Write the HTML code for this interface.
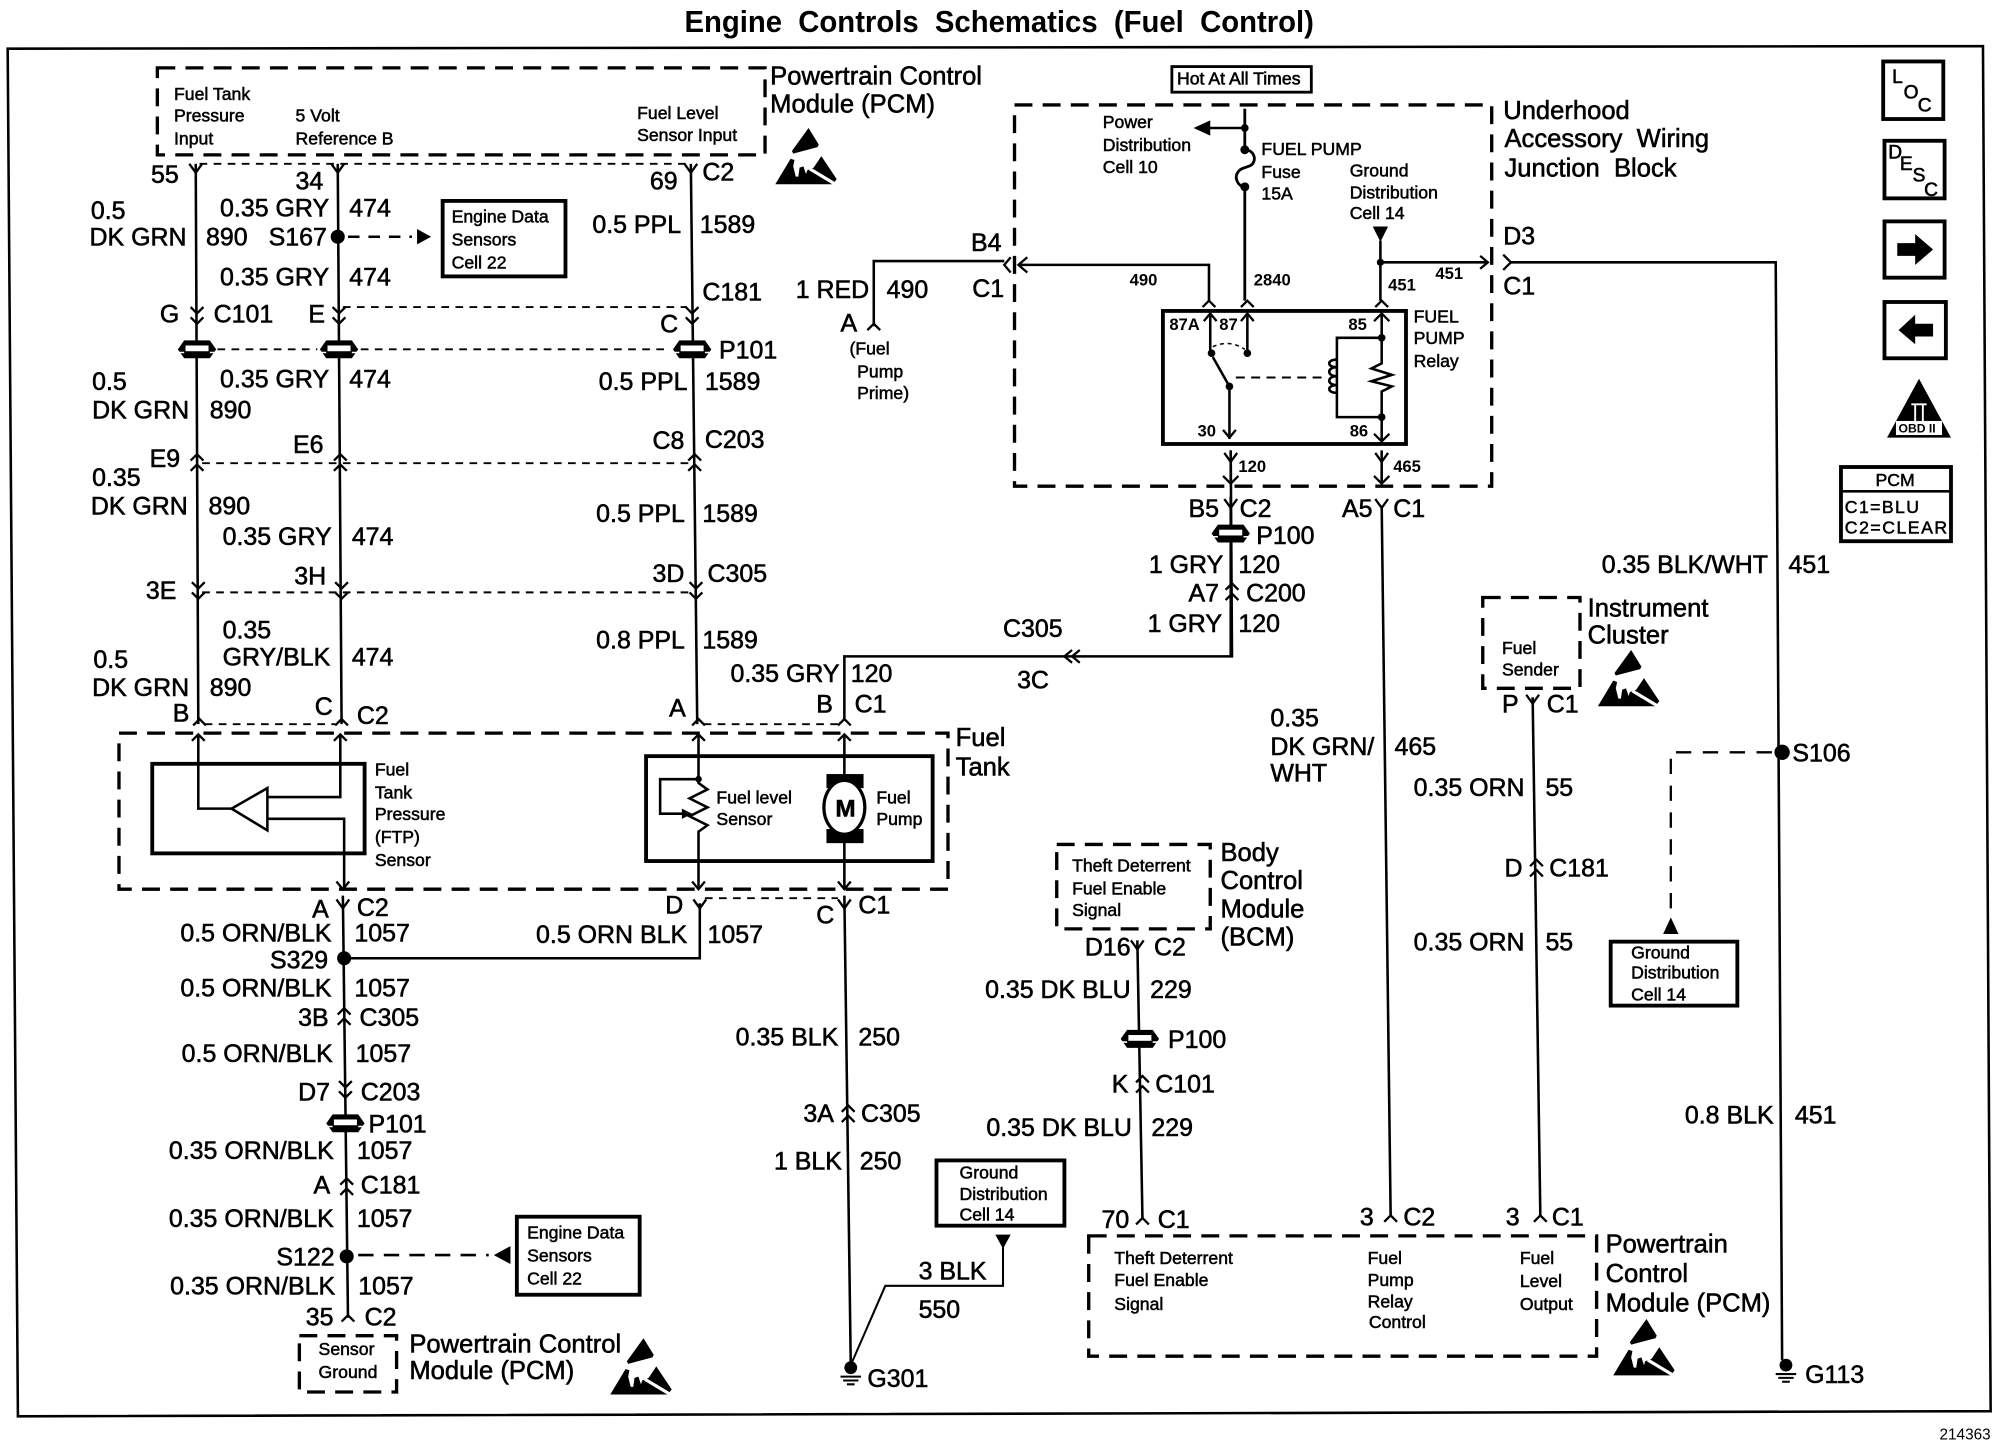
<!DOCTYPE html>
<html><head><meta charset="utf-8"><title>Engine Controls Schematics (Fuel Control)</title>
<style>
html,body{margin:0;padding:0;background:#fff}
svg{display:block}
text{font-family:"Liberation Sans",sans-serif;fill:#000;stroke:#000;stroke-width:.45;white-space:pre}
.b{font-size:19.5px}
.m{font-size:20px}
.s{font-size:13.8px}
.s text{stroke-width:.4}
.r{font-size:13px;font-weight:bold;stroke:none}
.w{fill:none;stroke:#000;stroke-width:2}
.t{fill:none;stroke:#000;stroke-width:1.5;stroke-dasharray:6 5}
.d{fill:none;stroke:#000;stroke-width:2.6;stroke-dasharray:14 8}
.x{fill:none;stroke:#000;stroke-width:3}
</style></head><body>
<svg xmlns="http://www.w3.org/2000/svg" width="2006" height="1456" viewBox="0 0 1568 1138">
<defs>
<path id="Y" d="M-5-7L0 0L5-7" fill="none" stroke="#000" stroke-width="1.8"/>
<path id="ca" d="M-5 5L0 0L5 5" fill="none" stroke="#000" stroke-width="1.8"/>
<path id="dd" d="M-5-5L0 0L5-5M-5 3L0 8L5 3" fill="none" stroke="#000" stroke-width="1.8"/>
<path id="uu" d="M-5 5L0 0L5 5M-5 13L0 8L5 13" fill="none" stroke="#000" stroke-width="1.8"/>
<g id="sp"><path d="M-15 0L-10-7H10L15 0L10 7H-10Z"/><rect x="-9" y="-3" width="18" height="4.5" fill="#fff"/><path d="M-15 2.5H-10M10 2.5H15" stroke="#fff" stroke-width="1.2"/></g>
<g id="esd"><path d="M26 0L34 13L33 15L14 20L13 18Z"/><path d="M0 44L12 24L15 25L14 30L16 38H18L19 31L22 30L24 36L25 33L30 31L36 22L48 40L45 44Z"/><path d="M27 32L47 44" fill="none" stroke="#fff" stroke-width="2.5"/></g>
<g id="gnd"><circle r="5" cy="-3"/><path d="M-8 4H8M-6 7H6M-3 10H3" stroke="#000" stroke-width="1.6"/></g>
</defs>
<rect width="1568" height="1138" fill="#fff"/>
<path d="M6 38L1550 36L1556 1103L14 1107Z" fill="none" stroke="#000" stroke-width="2"/>
<text x="535" y="25" font-size="24" font-weight="bold" textLength="492" lengthAdjust="spacingAndGlyphs" style="stroke:none">Engine  Controls  Schematics  (Fuel  Control)</text>

<!-- top PCM -->
<rect class="d" x="123" y="53" width="475" height="68"/>
<g class="s"><text x="136" y="78">Fuel Tank</text><text x="136" y="95">Pressure</text><text x="136" y="113">Input</text><text x="231" y="95">5 Volt</text><text x="231" y="113">Reference B</text><text x="498" y="93">Fuel Level</text><text x="498" y="110">Sensor Input</text></g>
<g class="m"><text x="602" y="66">Powertrain Control</text><text x="602" y="88">Module (PCM)</text></g>
<use href="#esd" x="606" y="100"/>

<!-- left three wires -->
<path class="w" d="M153 128L155 566M264 128L267 566"/><path class="w" d="M540 128L545 566"/>
<path class="t" d="M156 128H536M268 240H537M170 273H248M282 273H524M158 362H540M158 463H542M160 566H262M550 566H655"/>
<use href="#Y" x="153" y="135"/><use href="#Y" x="264" y="135"/><use href="#Y" x="540" y="135"/>
<use href="#dd" x="154" y="245"/><use href="#dd" x="265" y="245"/><use href="#dd" x="541" y="245"/>
<use href="#sp" x="154" y="273"/><use href="#sp" x="265" y="273"/><use href="#sp" x="541" y="273"/>
<use href="#uu" x="154" y="355"/><use href="#uu" x="266" y="355"/><use href="#uu" x="543" y="355"/>
<use href="#dd" x="155" y="460"/><use href="#dd" x="267" y="460"/><use href="#dd" x="544" y="460"/>
<use href="#ca" x="156" y="562"/><use href="#ca" x="267" y="562"/><use href="#ca" x="546" y="562"/><use href="#ca" x="660" y="562"/>
<circle cx="264" cy="185" r="5.5"/>
<path d="M272 185H322" stroke="#000" stroke-width="2" stroke-dasharray="9 7" fill="none"/><path d="M326 179L337 185L326 191Z"/>
<rect class="x" x="346" y="157" width="96" height="59"/>
<g class="s"><text x="353" y="174">Engine Data</text><text x="353" y="192">Sensors</text><text x="353" y="210">Cell 22</text></g>
<g class="b">
<text x="118" y="143">55</text><text x="231" y="148">34</text><text x="508" y="148">69</text><text x="549" y="141">C2</text>
<text x="71" y="171">0.5</text><text x="70" y="192">DK GRN</text><text x="161" y="192">890</text>
<text x="172" y="169">0.35 GRY</text><text x="273" y="169">474</text><text x="210" y="192">S167</text>
<text x="172" y="223">0.35 GRY</text><text x="273" y="223">474</text>
<text x="463" y="182">0.5 PPL</text><text x="547" y="182">1589</text><text x="549" y="235">C181</text><text x="516" y="260">C</text>
<text x="125" y="252">G</text><text x="167" y="252">C101</text><text x="241" y="252">E</text><text x="562" y="280">P101</text>
<text x="72" y="305">0.5</text><text x="72" y="327">DK GRN</text><text x="164" y="327">890</text>
<text x="172" y="303">0.35 GRY</text><text x="273" y="303">474</text><text x="468" y="305">0.5 PPL</text><text x="551" y="305">1589</text>
<text x="117" y="365">E9</text><text x="229" y="354">E6</text><text x="510" y="351">C8</text><text x="551" y="350">C203</text>
<text x="72" y="380">0.35</text><text x="71" y="402">DK GRN</text><text x="163" y="402">890</text>
<text x="174" y="426">0.35 GRY</text><text x="275" y="426">474</text><text x="466" y="408">0.5 PPL</text><text x="549" y="408">1589</text>
<text x="114" y="468">3E</text><text x="230" y="457">3H</text><text x="510" y="455">3D</text><text x="553" y="455">C305</text>
<text x="174" y="499">0.35</text><text x="174" y="520">GRY/BLK</text><text x="275" y="520">474</text><text x="466" y="507">0.8 PPL</text><text x="549" y="507">1589</text>
<text x="73" y="522">0.5</text><text x="72" y="544">DK GRN</text><text x="164" y="544">890</text>
<text x="135" y="564">B</text><text x="246" y="559">C</text><text x="279" y="566">C2</text><text x="523" y="560">A</text>
<text x="571" y="533">0.35 GRY</text><text x="665" y="533">120</text><text x="638" y="557">B</text><text x="668" y="557">C1</text>
<text x="784" y="498">C305</text><text x="795" y="538">3C</text>
</g>
<path class="w" d="M660 562V513H963L962 352"/>
<path d="M838 508L832 513L838 518M844 508L838 513L844 518" fill="none" stroke="#000" stroke-width="1.8"/>

<!-- tank -->
<rect class="d" x="93" y="573" width="648" height="122"/>
<g class="m"><text x="747" y="583">Fuel</text><text x="747" y="606">Tank</text></g>
<rect class="x" x="119" y="597" width="166" height="70"/>
<path class="w" d="M155 575V632H181M209 623H266V575M209 640H269V694"/>
<path d="M209 616L181 632L209 649Z" fill="#fff" stroke="#000" stroke-width="2"/>
<use href="#ca" x="155" y="574"/><use href="#ca" x="266" y="574"/><use href="#ca" x="546" y="574"/><use href="#ca" x="660" y="574"/>
<path d="M263 689L268 695L273 689M541 689L546 695L551 689M655 689L660 695L665 689" fill="none" stroke="#000" stroke-width="1.8"/>
<g class="s"><text x="293" y="606">Fuel</text><text x="293" y="624">Tank</text><text x="293" y="641">Pressure</text><text x="293" y="659">(FTP)</text><text x="293" y="677">Sensor</text>
<text x="560" y="628">Fuel level</text><text x="560" y="645">Sensor</text><text x="685" y="628">Fuel</text><text x="685" y="645">Pump</text></g>
<rect class="x" x="505" y="591" width="224" height="82"/>
<path class="w" d="M546 575V612L553 617L539 624L553 631L539 638L553 645L546 650V694M546 609H516V636H536"/>
<circle cx="546" cy="609" r="2.6"/><path d="M533 632L541 636L533 640Z"/>
<path class="w" d="M660 575V606M660 655V694"/>
<rect x="646" y="605" width="29" height="11"/><rect x="646" y="648" width="29" height="11"/>
<ellipse cx="660" cy="631" rx="16" ry="21" fill="#fff" stroke="#000" stroke-width="2.5"/>
<text x="653" y="638" font-size="19" font-weight="bold">M</text>

<!-- lower left -->
<path class="w" d="M268 700L272 1030M547 706V749H269M660 700L665 1067"/>
<path class="t" d="M551 702H655"/>
<use href="#Y" x="268" y="710"/><use href="#Y" x="547" y="710"/><use href="#Y" x="660" y="710"/>
<circle cx="269" cy="749" r="5.5"/>
<use href="#uu" x="269" y="788"/><use href="#dd" x="270" y="850"/><use href="#sp" x="270" y="878"/><use href="#uu" x="271" y="921"/>
<circle cx="271" cy="982" r="5.5"/><use href="#ca" x="272" y="1028"/>
<path d="M280 981H382" stroke="#000" stroke-width="2" stroke-dasharray="12 8" fill="none"/><path d="M399 974L386 981L399 988Z"/>
<rect class="x" x="404" y="951" width="96" height="61"/>
<g class="s"><text x="412" y="968">Engine Data</text><text x="412" y="986">Sensors</text><text x="412" y="1004">Cell 22</text></g>
<rect class="d" x="234" y="1044" width="76" height="44"/>
<g class="s"><text x="249" y="1059">Sensor</text><text x="249" y="1077">Ground</text></g>
<g class="m"><text x="320" y="1057">Powertrain Control</text><text x="320" y="1078">Module (PCM)</text></g>
<use href="#esd" x="477" y="1046"/>
<g class="b">
<text x="244" y="717">A</text><text x="279" y="716">C2</text><text x="520" y="714">D</text><text x="638" y="722">C</text><text x="671" y="714">C1</text>
<text x="141" y="736">0.5 ORN/BLK</text><text x="277" y="736">1057</text><text x="211" y="757">S329</text>
<text x="419" y="737">0.5 ORN BLK</text><text x="553" y="737">1057</text>
<text x="141" y="779">0.5 ORN/BLK</text><text x="277" y="779">1057</text><text x="233" y="802">3B</text><text x="281" y="802">C305</text>
<text x="142" y="830">0.5 ORN/BLK</text><text x="278" y="830">1057</text><text x="233" y="860">D7</text><text x="282" y="860">C203</text><text x="288" y="885">P101</text>
<text x="132" y="906">0.35 ORN/BLK</text><text x="279" y="906">1057</text><text x="245" y="933">A</text><text x="282" y="933">C181</text>
<text x="132" y="959">0.35 ORN/BLK</text><text x="279" y="959">1057</text><text x="216" y="989">S122</text>
<text x="133" y="1012">0.35 ORN/BLK</text><text x="280" y="1012">1057</text><text x="239" y="1036">35</text><text x="285" y="1036">C2</text>
<text x="575" y="817">0.35 BLK</text><text x="671" y="817">250</text><text x="628" y="877">3A</text><text x="673" y="877">C305</text>
<text x="605" y="914">1 BLK</text><text x="672" y="914">250</text>
<text x="718" y="1000">3 BLK</text><text x="718" y="1030">550</text><text x="678" y="1084">G301</text>
</g>
<use href="#uu" x="663" y="864"/>
<rect class="x" x="732" y="907" width="100" height="51"/>
<g class="s"><text x="750" y="921">Ground</text><text x="750" y="938">Distribution</text><text x="750" y="954">Cell 14</text></g>
<path d="M778 965H790L784 976Z"/><path class="w" d="M784 975V1005H692L665 1067" style="stroke-width:1.6"/>
<use href="#gnd" x="665" y="1072"/>

<!-- underhood -->
<text x="920" y="66" class="s">Hot At All Times</text>
<rect x="916" y="52" width="109" height="20" fill="none" stroke="#000" stroke-width="2.2"/>
<rect class="d" x="793" y="82" width="373" height="298"/>
<g class="m"><text x="1175" y="93">Underhood</text><text x="1176" y="115">Accessory  Wiring</text><text x="1176" y="138">Junction  Block</text></g>
<path class="w" d="M973 85V117C980 117 983 125 978 129C975 131 970 131 968 134C964 139 968 146 973 146V235" style="stroke-width:2.2"/>
<circle cx="973" cy="100" r="3"/><circle cx="973" cy="117" r="3.5"/><circle cx="973" cy="146" r="3.5"/>
<path class="w" d="M973 100H945"/><path d="M933 100L946 94V106Z"/>
<g class="s"><text x="862" y="100">Power</text><text x="862" y="118">Distribution</text><text x="862" y="135">Cell 10</text>
<text x="986" y="121">FUEL PUMP</text><text x="986" y="139">Fuse</text><text x="986" y="156">15A</text>
<text x="1055" y="138">Ground</text><text x="1055" y="155">Distribution</text><text x="1055" y="171">Cell 14</text>
<text x="1105" y="252">FUEL</text><text x="1105" y="269">PUMP</text><text x="1105" y="287">Relay</text></g>
<path d="M1073 177H1085L1079 189Z"/>
<path class="w" d="M1079 188V235M1079 205H1162M945 235V207H797"/>
<circle cx="1079" cy="205" r="2.8"/>
<path d="M1157 200L1163 205L1157 210M803 201L796 207L803 213M790 201L785 207L790 213M1175 199L1181 205L1175 211" fill="none" stroke="#000" stroke-width="1.8"/>
<use href="#ca" x="945" y="235"/><use href="#ca" x="975" y="235"/><use href="#ca" x="1080" y="235"/>
<text x="883" y="223" class="r">490</text><text x="980" y="223" class="r">2840</text><text x="1085" y="227" class="r">451</text><text x="1122" y="218" class="r">451</text>
<rect class="x" x="909" y="243" width="190" height="104"/>
<path class="w" d="M946 246V276M975 246V276M961 302V343M1080 246V284L1072 288L1088 293L1072 298L1088 302L1080 306V345M1080 264H1045V326H1080"/>
<path d="M941 251L946 245L951 251M970 251L975 245L980 251M1074 251L1080 245L1086 251M956 336L961 342L966 336M1074 339L1080 345L1086 339" fill="none" stroke="#000" stroke-width="1.8"/>
<circle cx="947" cy="276" r="3"/><circle cx="975" cy="276" r="3"/><circle cx="961" cy="302" r="3"/><circle cx="1080" cy="264" r="3"/><circle cx="1080" cy="326" r="3"/>
<path d="M961 302L948 279" stroke="#000" stroke-width="2"/>
<path d="M948 271Q961 265 973 273" fill="none" stroke="#000" stroke-width="1.2" stroke-dasharray="3 3"/>
<path d="M966 295H1036" stroke="#000" stroke-width="1.6" stroke-dasharray="7 5"/>
<path d="M1045 281C1037 281 1037 287 1045 287C1037 287 1037 294 1045 294C1037 294 1037 301 1045 301C1037 301 1037 307 1045 307" fill="none" stroke="#000" stroke-width="2"/>
<text x="914" y="258" class="r">87A</text><text x="953" y="258" class="r">87</text><text x="1054" y="258" class="r">85</text><text x="936" y="341" class="r">30</text><text x="1055" y="341" class="r">86</text>
<text x="968" y="369" class="r">120</text><text x="1089" y="369" class="r">465</text>
<path class="w" d="M962 352V378M1080 352V378"/>
<use href="#Y" x="962" y="361"/><use href="#Y" x="1080" y="361"/>
<path d="M956 372L962 378L968 372M1074 372L1080 378L1086 372" fill="none" stroke="#000" stroke-width="1.8"/>
<path class="w" d="M962 388V513M1080 395L1087 950"/>
<use href="#Y" x="962" y="397"/><use href="#Y" x="1080" y="397"/><use href="#sp" x="962" y="417"/><use href="#uu" x="963" y="456"/>
<g class="b">
<text x="759" y="196">B4</text><text x="760" y="232">C1</text><text x="622" y="233">1 RED</text><text x="693" y="233">490</text><text x="657" y="259">A</text>
<text x="929" y="404">B5</text><text x="969" y="404">C2</text><text x="1049" y="404">A5</text><text x="1089" y="404">C1</text>
<text x="982" y="425">P100</text><text x="898" y="448">1 GRY</text><text x="968" y="448">120</text><text x="929" y="470">A7</text><text x="974" y="470">C200</text><text x="897" y="494">1 GRY</text><text x="968" y="494">120</text>
<text x="993" y="568">0.35</text><text x="993" y="590">DK GRN/</text><text x="993" y="611">WHT</text><text x="1090" y="590">465</text>
<text x="1175" y="191">D3</text><text x="1175" y="230">C1</text>
<text x="1252" y="448">0.35 BLK/WHT</text><text x="1398" y="448">451</text><text x="1401" y="595">S106</text>
<text x="1317" y="878">0.8 BLK</text><text x="1403" y="878">451</text><text x="1411" y="1081">G113</text>
<text x="1174" y="557">P</text><text x="1209" y="557">C1</text><text x="1105" y="622">0.35 ORN</text><text x="1208" y="622">55</text><text x="1176" y="685">D</text><text x="1211" y="685">C181</text><text x="1105" y="743">0.35 ORN</text><text x="1208" y="743">55</text>
<text x="1063" y="958">3</text><text x="1097" y="958">C2</text><text x="1177" y="958">3</text><text x="1213" y="958">C1</text>
<text x="861" y="960">70</text><text x="905" y="960">C1</text><text x="848" y="747">D16</text><text x="902" y="747">C2</text>
<text x="770" y="780">0.35 DK BLU</text><text x="899" y="780">229</text><text x="913" y="819">P100</text><text x="869" y="854">K</text><text x="903" y="854">C101</text><text x="771" y="888">0.35 DK BLU</text><text x="900" y="888">229</text>
</g>
<path class="w" d="M683 255V204H785"/><use href="#ca" x="683" y="253"/>
<g class="s"><text x="664" y="277">(Fuel</text><text x="670" y="295">Pump</text><text x="670" y="312">Prime)</text></g>

<!-- right side -->
<path class="w" d="M1180 205H1388L1393 1063"/>
<circle cx="1393" cy="588" r="6"/>
<path d="M1385 588H1306V715" fill="none" stroke="#000" stroke-width="1.8" stroke-dasharray="12 9"/>
<path d="M1300 730L1306 717L1312 730Z"/>
<rect class="x" x="1259" y="736" width="99" height="50"/>
<g class="s"><text x="1275" y="749">Ground</text><text x="1275" y="765">Distribution</text><text x="1275" y="782">Cell 14</text></g>
<use href="#gnd" x="1396" y="1070"/>
<rect class="d" x="1159" y="467" width="76" height="71"/>
<g class="s"><text x="1174" y="511">Fuel</text><text x="1174" y="528">Sender</text></g>
<g class="m"><text x="1241" y="482">Instrument</text><text x="1241" y="503">Cluster</text></g>
<use href="#esd" x="1249" y="508"/>
<path class="w" d="M1198 545L1204 950"/><use href="#Y" x="1198" y="550"/><use href="#uu" x="1201" y="672"/>
<use href="#ca" x="1087" y="950"/><use href="#ca" x="1204" y="950"/><use href="#ca" x="893" y="952"/>

<!-- BCM -->
<rect class="d" x="826" y="660" width="120" height="66"/>
<g class="s"><text x="838" y="681">Theft Deterrent</text><text x="838" y="699">Fuel Enable</text><text x="838" y="716">Signal</text></g>
<g class="m"><text x="954" y="673">Body</text><text x="954" y="695">Control</text><text x="954" y="717">Module</text><text x="954" y="739">(BCM)</text></g>
<path class="w" d="M889 735L893 952"/><use href="#Y" x="889" y="742"/><use href="#sp" x="891" y="812"/><use href="#uu" x="893" y="841"/>

<!-- bottom PCM -->
<rect class="d" x="851" y="966" width="397" height="94"/>
<g class="s"><text x="871" y="988">Theft Deterrent</text><text x="871" y="1005">Fuel Enable</text><text x="871" y="1024">Signal</text>
<text x="1069" y="988">Fuel</text><text x="1069" y="1005">Pump</text><text x="1069" y="1022">Relay</text><text x="1070" y="1038">Control</text>
<text x="1188" y="988">Fuel</text><text x="1188" y="1006">Level</text><text x="1188" y="1024">Output</text></g>
<g class="m"><text x="1255" y="979">Powertrain</text><text x="1255" y="1002">Control</text><text x="1255" y="1025">Module (PCM)</text></g>
<use href="#esd" x="1261" y="1031"/>
<text x="1516" y="1125" font-size="12" style="stroke:none">214363</text>

<!-- icons -->
<rect class="x" x="1472" y="48" width="47" height="45"/>
<text x="1479" y="65" font-size="15">L</text><text x="1488" y="77" font-size="15">O</text><text x="1499" y="87" font-size="15">C</text>
<rect class="x" x="1473" y="110" width="47" height="45"/>
<text x="1476" y="124" font-size="15">D</text><text x="1485" y="133" font-size="15">E</text><text x="1495" y="142" font-size="15">S</text><text x="1504" y="153" font-size="15">C</text>
<rect class="x" x="1473" y="173" width="47" height="44"/>
<path d="M1483 190H1497V183L1511 195L1497 207V200H1483Z"/>
<rect class="x" x="1473" y="236" width="48" height="44"/>
<path d="M1511 253H1497V246L1484 258L1497 269V263H1511Z"/>
<path d="M1500 296L1525 342H1475Z"/>
<rect x="1482" y="329" width="36" height="11" fill="#fff"/>
<path d="M1497 316V329M1503 316V329M1494 316H1506" stroke="#fff" stroke-width="1.5"/>
<text x="1484" y="338" font-size="9.5" font-weight="bold" style="stroke:none">OBD II</text>
<rect class="x" x="1439" y="365" width="86" height="58"/>
<path d="M1439 384H1525" stroke="#000" stroke-width="2"/>
<g class="s"><text x="1466" y="380">PCM</text><text x="1442" y="401" textLength="58">C1=BLU</text><text x="1442" y="417" textLength="80">C2=CLEAR</text></g>
</svg>
</body></html>
